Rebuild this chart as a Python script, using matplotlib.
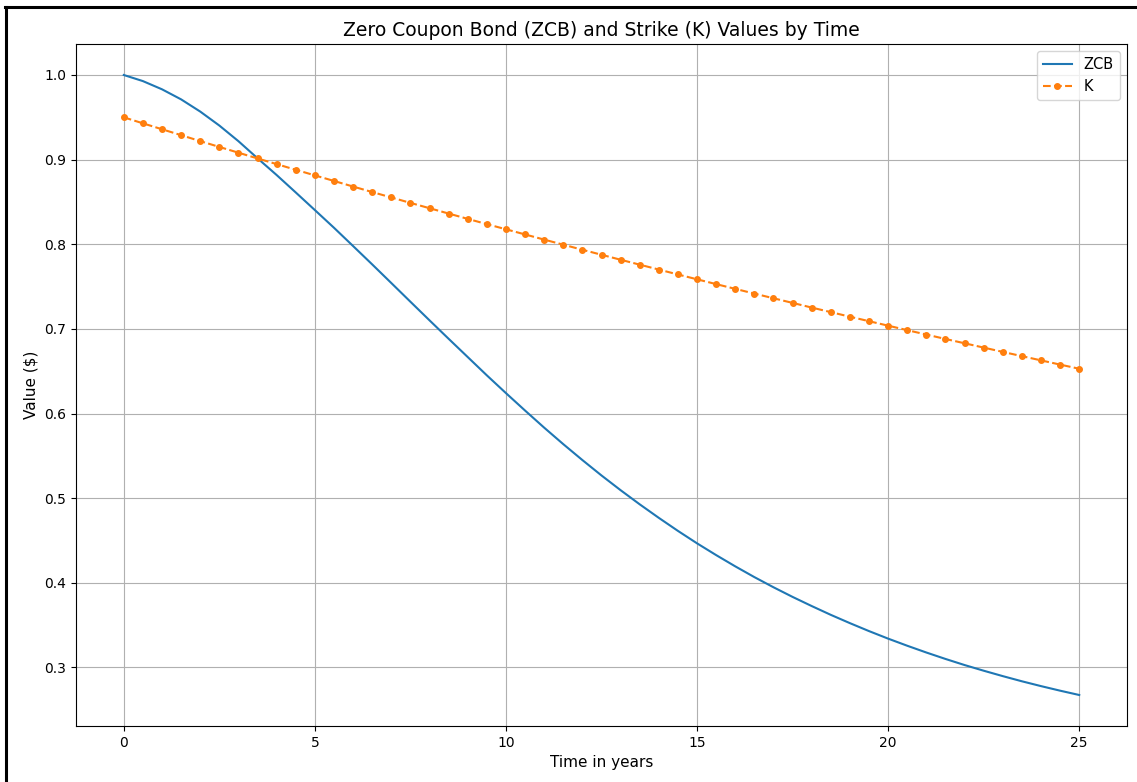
import numpy as np
import matplotlib
matplotlib.use("Agg")
from matplotlib import pyplot as plt
from matplotlib.lines import Line2D

# Time grid (years) and values
years = [0.0, 0.5, 1.0, 1.5, 2.0, 2.5, 3.0, 3.5, 4.0, 4.5,
         5.0, 5.5, 6.0, 6.5, 7.0, 7.5, 8.0, 8.5, 9.0, 9.5,
         10.0, 10.5, 11.0, 11.5, 12.0, 12.5, 13.0, 13.5, 14.0, 14.5,
         15.0, 15.5, 16.0, 16.5, 17.0, 17.5, 18.0, 18.5, 19.0, 19.5,
         20.0, 20.5, 21.0, 21.5, 22.0, 22.5, 23.0, 23.5, 24.0, 24.5,
         25.0]

zcb = [1.0000, 0.9928, 0.9831, 0.9712, 0.9568, 0.9403, 0.9218, 0.9016, 0.8818, 0.8612,
       0.8404, 0.8195, 0.7979, 0.7762, 0.7542, 0.7321, 0.7101, 0.6883, 0.6667, 0.6451,
       0.6241, 0.6035, 0.5833, 0.5638, 0.5450, 0.5268, 0.5094, 0.4927, 0.4767, 0.4613,
       0.4466, 0.4327, 0.4194, 0.4067, 0.3947, 0.3833, 0.3725, 0.3621, 0.3523, 0.3429,
       0.3340, 0.3256, 0.3176, 0.3100, 0.3028, 0.2961, 0.2897, 0.2836, 0.2779, 0.2725,
       0.2674]

strike = [0.9500, 0.9429, 0.9359, 0.9289, 0.9219, 0.9150, 0.9082, 0.9014, 0.8947, 0.8880,
          0.8814, 0.8748, 0.8682, 0.8617, 0.8553, 0.8489, 0.8426, 0.8363, 0.8300, 0.8238,
          0.8177, 0.8116, 0.8055, 0.7995, 0.7935, 0.7876, 0.7817, 0.7759, 0.7701, 0.7643,
          0.7586, 0.7529, 0.7473, 0.7417, 0.7362, 0.7307, 0.7252, 0.7198, 0.7144, 0.7091,
          0.7038, 0.6985, 0.6933, 0.6881, 0.6830, 0.6779, 0.6728, 0.6678, 0.6628, 0.6578,
          0.6529]

W, H, DPI = 1137, 782, 100

fig = plt.figure(figsize=(W / DPI, H / DPI), dpi=DPI)
ax = fig.add_axes([76 / W, 1 - 726 / H, (1127 - 76) / W, (726 - 44) / H])

ax.plot(years, zcb, label="ZCB")
ax.plot(years, strike, ".--", markersize=8, label="K")

ax.set_title("Zero Coupon Bond (ZCB) and Strike (K) Values by Time", fontsize=13.5)
ax.set_xlabel("Time in years", fontsize=11)
ax.set_ylabel("Value ($)", fontsize=11)
ax.tick_params(labelsize=10)
ax.grid(True)
ax.legend(loc="upper right", fontsize=10.5)

# screenshot frame on the left and top edges
fig.add_artist(Line2D([6 / W, 6 / W], [0, 1 - 7 / H], color="black", lw=2.2,
                      transform=fig.transFigure))
fig.add_artist(Line2D([5 / W, 1], [1 - 7 / H, 1 - 7 / H], color="black", lw=2.2,
                      transform=fig.transFigure))

fig.savefig("out.png", dpi=DPI)
